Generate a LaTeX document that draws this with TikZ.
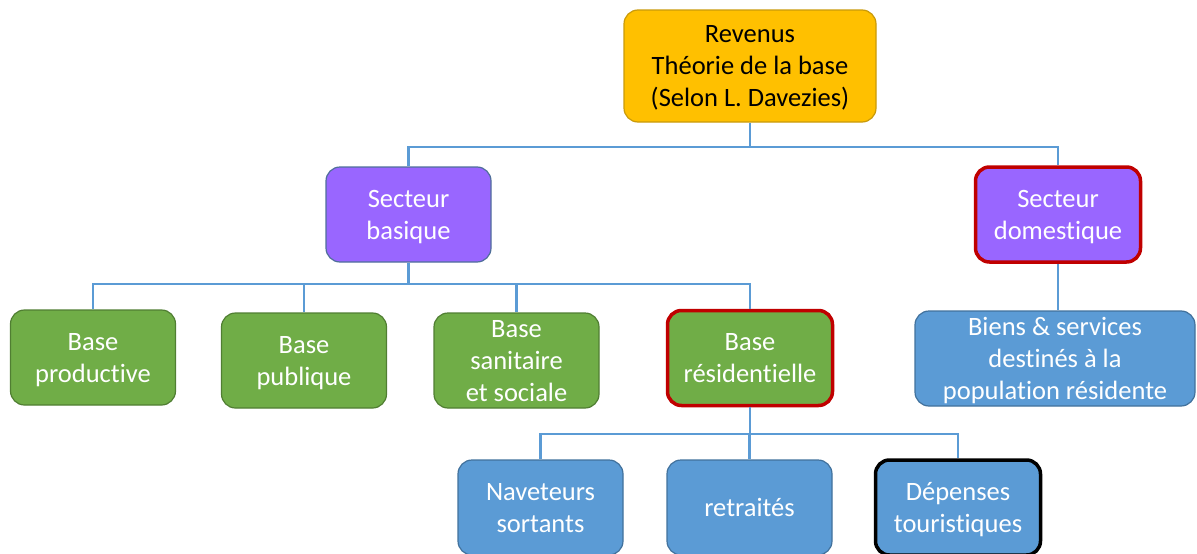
\documentclass[tikz,border=0pt]{standalone}
\usepackage{fontspec}
\setmainfont{Carlito}[Ligatures=NoCommon]
\usetikzlibrary{positioning}
\definecolor{orbox}{HTML}{FFC000}
\definecolor{ordark}{HTML}{C99A0A}
\definecolor{violet}{HTML}{9966FF}
\definecolor{violetdark}{HTML}{4F6F9A}
\definecolor{vert}{HTML}{70AD47}
\definecolor{vertdark}{HTML}{507E32}
\definecolor{bleu}{HTML}{5B9BD5}
\definecolor{bleudark}{HTML}{41719C}
\definecolor{rouge}{HTML}{C00000}

\begin{document}
\begin{tikzpicture}[x=1pt, y=-1pt]
 \tikzstyle{box}=[rectangle, rounded corners=14pt, align=center, inner sep=0pt, minimum width=165pt, minimum height=95pt, font=\fontsize{26.5}{32}\selectfont, text=white, text depth=-2.5pt, draw, line width=1.2pt]
 \tikzstyle{obox}=[box, fill=orbox, draw=ordark, text=black, minimum width=252pt, minimum height=112pt]
 \tikzstyle{vbox}=[box, fill=violet, draw=violetdark]
 \tikzstyle{gbox}=[box, fill=vert, draw=vertdark]
 \tikzstyle{bbox}=[box, fill=bleu, draw=bleudark]
 \tikzstyle{hot}=[draw=rouge, line width=3.5pt]
 \tikzstyle{line}=[draw, bleu, line width=2.4pt]

 \useasboundingbox (0,0) rectangle (1197,554);

 \node[obox] (rev) at (750,66) {Revenus\\Théorie de la base\\(Selon L. Davezies)};

 \node[vbox] (sb) at (408.5,214.5) {Secteur\\basique};
 \node[vbox, hot] (sd) at (1058,214.5) {Secteur\\domestique};

 \node[gbox] (bprod) at (93,357.5) {Base\\productive};
 \node[gbox] (bpub) at (304,360.5) {Base\\publique};
 \node[gbox] (bsan) at (516.5,360.5) {Base\\sanitaire\\et sociale};
 \node[gbox, hot] (bres) at (750,358) {Base\\résidentielle};
 \node[bbox, minimum width=280pt] (biens) at (1055,358.5) {Biens \& services\\destinés à la\\population résidente};

 \node[bbox] (nav) at (540.5,507.5) {Naveteurs\\sortants};
 \node[bbox] (retr) at (749.5,507.5) {retraités};
 \node[bbox, draw=black, line width=3.5pt] (dep) at (958,507.5) {Dépenses\\touristiques};

 \coordinate (j1) at (750,147);
 \coordinate (j2) at (408.5,284);
 \coordinate (j3) at (750,434);

 \path[line] (rev) -- (j1);
 \path[line] (j1) -| (sb);
 \path[line] (j1) -| (sd);

 \path[line] (sb) -- (j2);
 \path[line] (j2) -| (bprod);
 \path[line] (j2) -| (bpub);
 \path[line] (j2) -| (bsan);
 \path[line] (j2) -| (bres);

 \path[line] (sd) -- (biens.north -| sd);

 \path[line] (bres) -- (j3);
 \path[line] (j3) -| (nav);
 \path[line] (j3) -| (retr);
 \path[line] (j3) -| (dep);
\end{tikzpicture}
\end{document}
